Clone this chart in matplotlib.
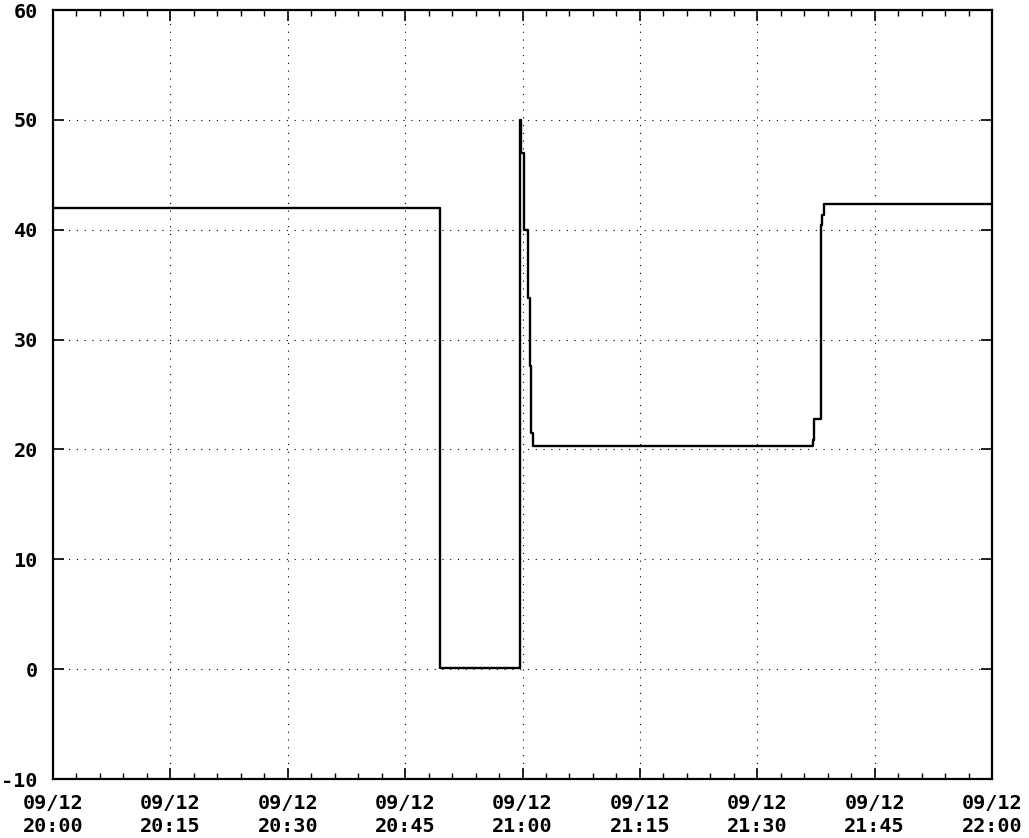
import matplotlib
matplotlib.use("Agg")
import matplotlib.pyplot as plt
import datetime as dt

# minutes after 09/12 20:00 and step values
minutes = [0.0, 49.4, 59.74, 59.87, 60.25, 60.70, 60.96, 61.15, 61.28, 61.40,
           97.1, 97.3, 98.1, 98.3, 98.5, 120.0]
values = [42.0, 0.1, 50.0, 47.0, 40.0, 33.8, 27.6, 21.5, 20.9, 20.3,
          20.9, 22.8, 40.4, 41.3, 42.3, 42.3]

y_ticks = [-10, 0, 10, 20, 30, 40, 50, 60]
x_tick_labels = ["09/12\n20:00", "09/12\n20:15", "09/12\n20:30", "09/12\n20:45",
                 "09/12\n21:00", "09/12\n21:15", "09/12\n21:30", "09/12\n21:45",
                 "09/12\n22:00"]

base = dt.datetime(2000, 9, 12, 20, 0)
times = [base + dt.timedelta(minutes=m) for m in minutes]
x_ticks = [base + dt.timedelta(minutes=15 * i) for i in range(len(x_tick_labels))]
x_minor = [base + dt.timedelta(minutes=3 * i) for i in range(41)]

fig = plt.figure(figsize=(10.29, 8.38), dpi=100)
ax = fig.add_axes([53 / 1029, 1 - 779 / 838, (992 - 53) / 1029, (779 - 10) / 838])

ax.plot(times, values, drawstyle="steps-post", color="black", lw=1.7)

ax.set_xlim(base, base + dt.timedelta(minutes=120))
ax.set_ylim(-10, 60)
ax.set_xticks(x_ticks)
ax.set_xticklabels(x_tick_labels)
ax.set_xticks(x_minor, minor=True)
ax.set_yticks(y_ticks)
ax.set_yticklabels([str(v) for v in y_ticks])

font = dict(family="DejaVu Sans Mono", weight="bold", size=14.5)
for lab in ax.get_xticklabels() + ax.get_yticklabels():
    lab.set_fontfamily(font["family"])
    lab.set_fontweight(font["weight"])
    lab.set_fontsize(font["size"])
    lab.set_linespacing(1.25)

ax.tick_params(which="both", direction="in", top=True, right=True, color="black")
ax.tick_params(which="major", length=8, width=1.2)
ax.tick_params(which="minor", length=4, width=1.0)
ax.tick_params(axis="y", pad=11)
ax.tick_params(axis="x", pad=11)

ax.grid(True, which="major", color="black", linestyle=(0, (1, 6)), lw=0.8)
for s in ax.spines.values():
    s.set_linewidth(1.6)

fig.savefig("out.png", dpi=100)
